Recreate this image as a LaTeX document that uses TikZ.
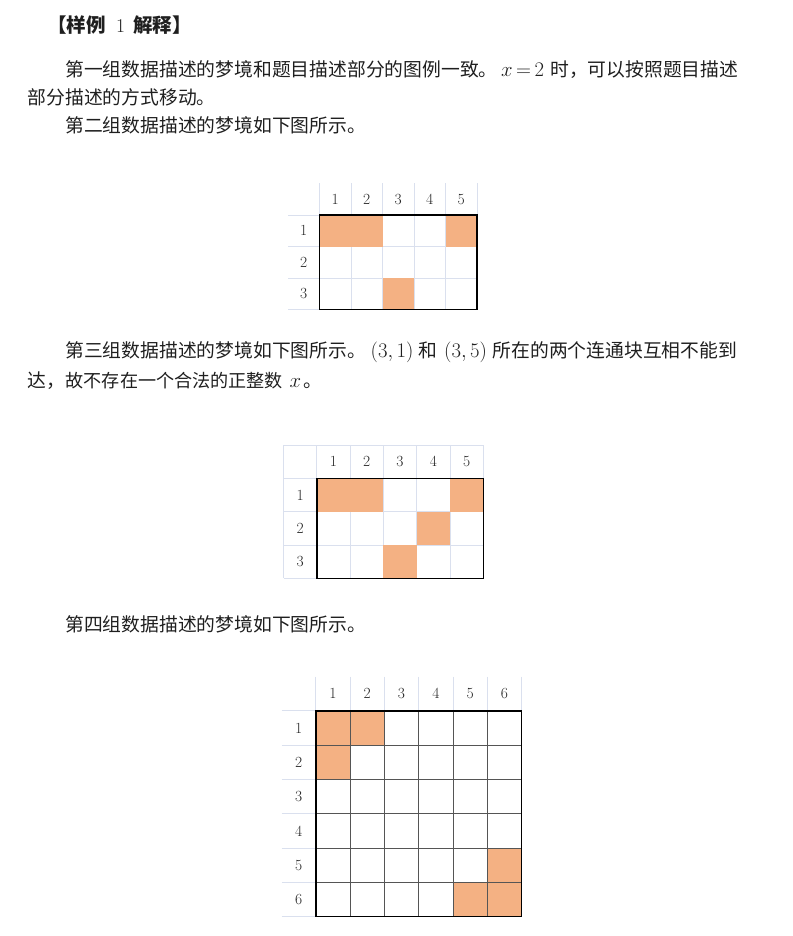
\documentclass[tikz,border=0pt]{standalone}
\usepackage{fontspec}
\newfontfamily\cjk{Noto Sans CJK SC}
\definecolor{lite}{RGB}{218,224,238}
\definecolor{darkline}{RGB}{85,85,85}
\definecolor{hotfill}{RGB}{244,177,131}
\tikzset{
  lite/.style={draw=lite, line width=0.8pt},
  dark/.style={draw=darkline, line width=0.9pt},
  boxline/.style={draw=black, line width=1.4pt},
  hot/.style={fill=hotfill},
  lab/.style={font=\fontsize{15.5}{17}\selectfont, inner sep=0pt, text=black!85},
  txt/.style={anchor=base west, inner sep=0pt, font=\cjk\fontsize{18.8}{20}\selectfont, text=black!88},
  mth/.style={anchor=base west, inner sep=0pt, font=\fontsize{19.5}{21}\selectfont, text=black!88},
}
\begin{document}
\begin{tikzpicture}[x=1pt, y=-1pt]
\useasboundingbox (0,0) rectangle (792,936);
% title
\node[txt, font=\cjk\bfseries\fontsize{19.5}{21}\selectfont] (ta) at (47,32.5) {【样例};
\node[mth] (tb) at (116,32.5) {1};
\node[txt, font=\cjk\bfseries\fontsize{19.5}{21}\selectfont] (tc) at (133,32.5) {解释】};
% paragraph 1
\node[txt] (p1a) at (65,77) {第一组数据描述的梦境和题目描述部分的图例一致。};
\node[mth] (p1b) at (501,77) {$x\mkern3mu{=}\mkern3mu2$};
\node[txt] (p1c) at (550,77) {时，可以按照题目描述};
\node[txt] (p1d) at (27.5,104.5) {部分描述的方式移动。};
% paragraph 2
\node[txt] (p2) at (65,133) {第二组数据描述的梦境如下图所示。};
% paragraph 3
\node[txt] (p3a) at (65,357) {第三组数据描述的梦境如下图所示。};
\node[mth] (p3b) at (370.5,357) {$(3,1)$};
\node[txt] (p3c) at (418.5,357) {和};
\node[mth] (p3d) at (444,357) {$(3,5)$};
\node[txt] (p3e) at (492.5,357) {所在的两个连通块互相不能到};
\node[txt] (p3f) at (27.5,387) {达，};
\node[txt, font=\cjk\fontsize{18.1}{20}\selectfont] (p3g) at (65.5,387) {故不存在一个合法的正整数};
\node[mth] (p3h) at (289.5,387) {$x$};
\node[txt] (p3i) at (303,387) {。};
% paragraph 4
\node[txt] (p4) at (65,631) {第四组数据描述的梦境如下图所示。};

% grid 1
\begin{scope}[shift={(288,183.5)}, x=31.5pt, y=-31.5pt]
  \foreach \k in {1,...,6} \draw[lite] (\k,0) -- (\k,4);
  \foreach \k in {1,...,4} \draw[lite] (0,\k) -- (6,\k);
  \fill[hot] (1,1) rectangle (3,2);
  \fill[hot] (5,1) rectangle (6,2);
  \fill[hot] (3,3) rectangle (4,4);
  \draw[boxline] (1,1) rectangle (6,4);
  \foreach \c in {1,...,5} \node[lab] (ga\c) at (\c+0.5,0.5) {\c};
  \foreach \r in {1,...,3} \node[lab] (gar\r) at (0.5,\r+0.5) {\r};
\end{scope}

% grid 2
\begin{scope}[shift={(283.5,445)}, x=33.3pt, y=-33.3pt]
  \foreach \k in {0,...,6} \draw[lite] (\k,0) -- (\k,4);
  \foreach \k in {0,...,4} \draw[lite] (0,\k) -- (6,\k);
  \fill[hot] (1,1) rectangle (3,2);
  \fill[hot] (5,1) rectangle (6,2);
  \fill[hot] (4,2) rectangle (5,3);
  \fill[hot] (3,3) rectangle (4,4);
  \draw[boxline] (1,1) rectangle (6,4);
  \foreach \c in {1,...,5} \node[lab] (gb\c) at (\c+0.5,0.5) {\c};
  \foreach \r in {1,...,3} \node[lab] (gbr\r) at (0.5,\r+0.5) {\r};
\end{scope}

% grid 3
\begin{scope}[shift={(281.5,676.5)}, x=34.3pt, y=-34.3pt]
  \foreach \k in {1,...,7} \draw[lite] (\k,0) -- (\k,7);
  \foreach \k in {1,...,7} \draw[lite] (0,\k) -- (7,\k);
  \fill[hot] (1,1) rectangle (2,2);
  \fill[hot] (2,1) rectangle (3,2);
  \fill[hot] (1,2) rectangle (2,3);
  \fill[hot] (6,5) rectangle (7,6);
  \fill[hot] (5,6) rectangle (6,7);
  \fill[hot] (6,6) rectangle (7,7);
  \foreach \k in {2,...,6} \draw[dark] (\k,1) -- (\k,7);
  \foreach \k in {2,...,6} \draw[dark] (1,\k) -- (7,\k);
  \draw[boxline] (1,1) rectangle (7,7);
  \foreach \c in {1,...,6} \node[lab] (gc\c) at (\c+0.5,0.5) {\c};
  \foreach \r in {1,...,6} \node[lab] (gcr\r) at (0.5,\r+0.5) {\r};
\end{scope}
\end{tikzpicture}
\end{document}
